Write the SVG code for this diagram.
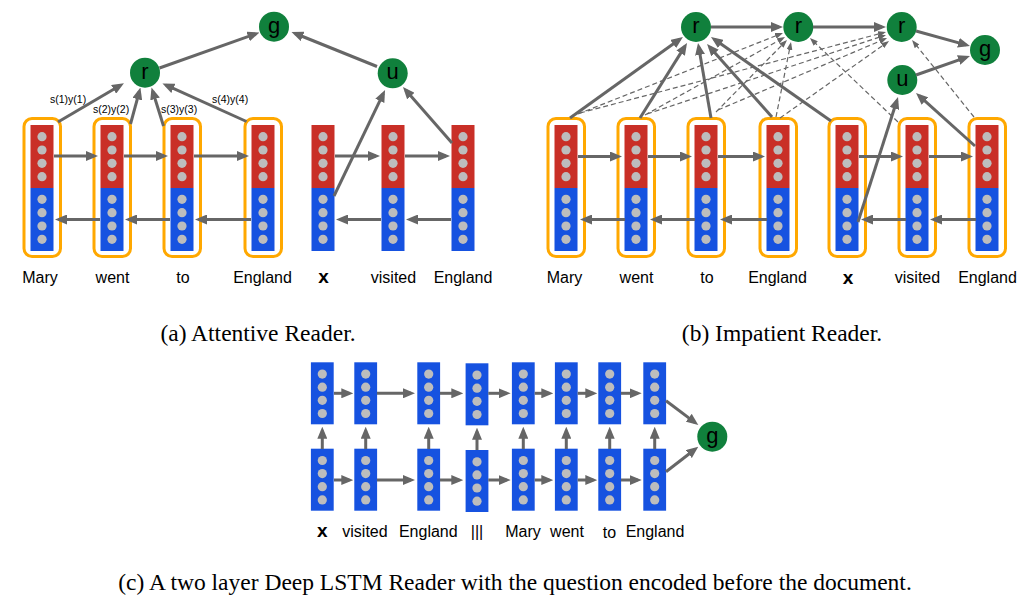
<svg xmlns="http://www.w3.org/2000/svg" xmlns:xlink="http://www.w3.org/1999/xlink" width="1028" height="608" viewBox="0 0 1028 608">
<style>
.red{fill:#c92f27}
.blue{fill:#1652e0}
.dot{fill:#bdbdbd}
.box{fill:#fff;stroke:#ffa800;stroke-width:3}
.node{fill:#10803c}
.nl{font-family:"Liberation Sans",Arial,sans-serif;font-size:22px;fill:#000;text-anchor:middle}
.w{font-family:"Liberation Sans",Arial,sans-serif;font-size:16px;fill:#000;text-anchor:middle}
.xb{font-weight:bold;font-size:19px}
.lab{font-family:"Liberation Sans",Arial,sans-serif;font-size:10.5px;fill:#000}
.cap{font-family:"Liberation Serif","Times New Roman",serif;font-size:23.5px;fill:#000;text-anchor:middle}
.a{stroke:#666;stroke-width:3;fill:none;marker-end:url(#ah)}
.d{stroke:#666;stroke-width:1.2;stroke-dasharray:5 3;fill:none;marker-end:url(#dh)}
</style>
<defs>
<marker id="ah" markerUnits="userSpaceOnUse" markerWidth="12" markerHeight="10" viewBox="0 0 12 10" refX="8" refY="5" orient="auto">
<path d="M0,0 L12,5 L0,10 z" fill="#666"/>
</marker>
<marker id="dh" markerUnits="userSpaceOnUse" markerWidth="8" markerHeight="6" viewBox="0 0 8 6" refX="6" refY="3" orient="auto">
<path d="M0,0 L8,3 L0,6 z" fill="#666"/>
</marker>
<g id="colRB">
<rect class="red" x="-11.5" y="0" width="23" height="63"/>
<rect class="blue" x="-11.5" y="63" width="23" height="63"/>
<circle class="dot" cx="0" cy="11.7" r="4.6"/>
<circle class="dot" cx="0" cy="25" r="4.6"/>
<circle class="dot" cx="0" cy="38.3" r="4.6"/>
<circle class="dot" cx="0" cy="51.7" r="4.6"/>
<circle class="dot" cx="0" cy="74.3" r="4.6"/>
<circle class="dot" cx="0" cy="87.7" r="4.6"/>
<circle class="dot" cx="0" cy="101" r="4.6"/>
<circle class="dot" cx="0" cy="114.3" r="4.6"/>
</g>
<g id="colBox">
<rect class="box" x="-18" y="118.5" width="36.5" height="138" rx="8"/>
<use xlink:href="#colRB" x="0" y="125"/>
</g>
<g id="colB">
<rect class="blue" x="-11.4" y="0" width="22.8" height="62"/>
<circle class="dot" cx="0" cy="11.8" r="4.6"/>
<circle class="dot" cx="0" cy="24.9" r="4.6"/>
<circle class="dot" cx="0" cy="38" r="4.6"/>
<circle class="dot" cx="0" cy="51.2" r="4.6"/>
</g>
</defs>
<rect width="1028" height="608" fill="#fff"/>

<!-- Panel (a) -->
<g id="a-mary"><use xlink:href="#colBox" x="42" y="0"/><text class="w" x="40" y="283">Mary</text></g>
<g id="a-went"><use xlink:href="#colBox" x="112" y="0"/><text class="w" x="112.5" y="283">went</text></g>
<g id="a-to"><use xlink:href="#colBox" x="182" y="0"/><text class="w" x="183" y="283">to</text></g>
<g id="a-england"><use xlink:href="#colBox" x="263" y="0"/><text class="w" x="262.5" y="283">England</text></g>
<g id="a-x"><use xlink:href="#colRB" x="323" y="125"/><text class="w xb" x="323.5" y="283">x</text></g>
<g id="a-visited"><use xlink:href="#colRB" x="393" y="125"/><text class="w" x="393.5" y="283">visited</text></g>
<g id="a-england2"><use xlink:href="#colRB" x="463" y="125"/><text class="w" x="463" y="283">England</text></g>
<g id="a-r"><circle class="node" cx="145" cy="72.7" r="15"/><text class="nl" x="145" y="79">r</text></g>
<g id="a-g"><circle class="node" cx="274" cy="26.7" r="15"/><text class="nl" x="274" y="32.5">g</text></g>
<g id="a-u"><circle class="node" cx="392.7" cy="73.3" r="15"/><text class="nl" x="392.7" y="79.3">u</text></g>

<g id="a-labels">
<text class="lab" x="50" y="102.5">s(1)y(1)</text>
<text class="lab" x="93" y="112.5">s(2)y(2)</text>
<text class="lab" x="161" y="112.5">s(3)y(3)</text>
<text class="lab" x="212" y="102.5">s(4)y(4)</text>
</g>

<!-- Panel (b) -->
<g id="b-mary"><use xlink:href="#colBox" x="566" y="0"/><text class="w" x="564.5" y="283">Mary</text></g>
<g id="b-went"><use xlink:href="#colBox" x="636" y="0"/><text class="w" x="636.5" y="283">went</text></g>
<g id="b-to"><use xlink:href="#colBox" x="706" y="0"/><text class="w" x="707" y="283">to</text></g>
<g id="b-england"><use xlink:href="#colBox" x="778" y="0"/><text class="w" x="777.5" y="283">England</text></g>
<g id="b-x"><use xlink:href="#colBox" x="847" y="0"/><text class="w xb" x="848" y="283.5">x</text></g>
<g id="b-visited"><use xlink:href="#colBox" x="917" y="0"/><text class="w" x="917.5" y="283">visited</text></g>
<g id="b-england2"><use xlink:href="#colBox" x="987" y="0"/><text class="w" x="987.5" y="283">England</text></g>
<g id="b-r1"><circle class="node" cx="696" cy="27" r="15"/><text class="nl" x="696" y="33">r</text></g>
<g id="b-r2"><circle class="node" cx="798.3" cy="27" r="15"/><text class="nl" x="798.3" y="33">r</text></g>
<g id="b-r3"><circle class="node" cx="901.7" cy="27" r="15"/><text class="nl" x="901.7" y="33">r</text></g>
<g id="b-g"><circle class="node" cx="985" cy="50" r="15"/><text class="nl" x="985" y="56">g</text></g>
<g id="b-u"><circle class="node" cx="902.3" cy="80" r="15"/><text class="nl" x="902.3" y="86">u</text></g>

<!-- Panel (c) -->
<g id="c-x"><use xlink:href="#colB" x="322.3" y="362.3"/><use xlink:href="#colB" x="322.3" y="448.7"/><text class="w xb" x="322.3" y="537">x</text></g>
<g id="c-visited"><use xlink:href="#colB" x="365.7" y="362.3"/><use xlink:href="#colB" x="365.7" y="448.7"/><text class="w" x="365" y="536.7">visited</text></g>
<g id="c-england"><use xlink:href="#colB" x="428.7" y="362.3"/><use xlink:href="#colB" x="428.7" y="448.7"/><text class="w" x="428.3" y="536.7">England</text></g>
<g id="c-sep"><use xlink:href="#colB" x="477" y="363.3"/><use xlink:href="#colB" x="477" y="450"/><text class="w" x="477" y="536.7" fill="#5a2a4a">|||</text></g>
<g id="c-mary"><use xlink:href="#colB" x="523.3" y="362.3"/><use xlink:href="#colB" x="523.3" y="448.7"/><text class="w" x="523" y="536.7">Mary</text></g>
<g id="c-went"><use xlink:href="#colB" x="566.3" y="362.3"/><use xlink:href="#colB" x="566.3" y="448.7"/><text class="w" x="567" y="536.7">went</text></g>
<g id="c-to"><use xlink:href="#colB" x="609.7" y="362.3"/><use xlink:href="#colB" x="609.7" y="448.7"/><text class="w" x="609.5" y="537.5">to</text></g>
<g id="c-england2"><use xlink:href="#colB" x="654.7" y="362.3"/><use xlink:href="#colB" x="654.7" y="448.7"/><text class="w" x="655" y="536.7">England</text></g>
<g id="c-g"><circle class="node" cx="712.3" cy="436.7" r="15"/><text class="nl" x="712.3" y="442.5">g</text></g>

<g id="connectors">
<!-- (a) horizontal -->
<line class="a" x1="54" y1="156" x2="94" y2="156"/>
<line class="a" x1="124" y1="156" x2="164" y2="156"/>
<line class="a" x1="194" y1="156" x2="245" y2="156"/>
<line class="a" x1="335" y1="156" x2="376" y2="156"/>
<line class="a" x1="405" y1="156" x2="446" y2="156"/>
<line class="a" x1="100" y1="219.5" x2="59" y2="219.5"/>
<line class="a" x1="170" y1="219.5" x2="129" y2="219.5"/>
<line class="a" x1="251" y1="219.5" x2="199" y2="219.5"/>
<line class="a" x1="381" y1="219.5" x2="340" y2="219.5"/>
<line class="a" x1="451" y1="219.5" x2="410" y2="219.5"/>
<!-- (a) attention / query -->
<line class="a" x1="58" y1="122" x2="120.5" y2="85.3"/>
<line class="a" x1="130.5" y1="124" x2="139.4" y2="91.4"/>
<line class="a" x1="163.5" y1="126" x2="152.7" y2="91.3"/>
<line class="a" x1="246.5" y1="121.5" x2="166.1" y2="85.1"/>
<line class="a" x1="159.5" y1="68" x2="255.7" y2="33.8"/>
<line class="a" x1="377" y1="66.5" x2="295.2" y2="33.5"/>
<line class="a" x1="334" y1="196" x2="383.3" y2="93.6"/>
<line class="a" x1="452" y1="143" x2="405.6" y2="90"/>
<!-- (b) horizontal -->
<line class="a" x1="578" y1="156.5" x2="618" y2="156.5"/>
<line class="a" x1="648" y1="156.5" x2="688" y2="156.5"/>
<line class="a" x1="718" y1="156.5" x2="761" y2="156.5"/>
<line class="a" x1="859" y1="156.5" x2="899" y2="156.5"/>
<line class="a" x1="929" y1="156.5" x2="969" y2="156.5"/>
<line class="a" x1="625" y1="219.5" x2="584" y2="219.5"/>
<line class="a" x1="695" y1="219.5" x2="654" y2="219.5"/>
<line class="a" x1="767" y1="219.5" x2="724" y2="219.5"/>
<line class="a" x1="906" y1="219.5" x2="865" y2="219.5"/>
<line class="a" x1="976" y1="219.5" x2="934" y2="219.5"/>
<!-- (b) solid -->
<line class="a" x1="711" y1="27" x2="779" y2="27"/>
<line class="a" x1="813" y1="27" x2="882" y2="27"/>
<line class="a" x1="916" y1="31" x2="966.1" y2="44.9"/>
<line class="a" x1="916" y1="75" x2="966.2" y2="57.3"/>
<line class="a" x1="570" y1="118" x2="679.7" y2="39.3"/>
<line class="a" x1="640" y1="118" x2="684.9" y2="46.4"/>
<line class="a" x1="711" y1="118" x2="698.7" y2="46.9"/>
<line class="a" x1="772" y1="117" x2="709.7" y2="47"/>
<line class="a" x1="831" y1="121" x2="714.3" y2="39.3"/>
<line class="a" x1="858" y1="222" x2="896.8" y2="100.8"/>
<line class="a" x1="975" y1="146" x2="919" y2="95.7"/>
<!-- (b) dashed -->
<line class="d" x1="578" y1="114" x2="781.1" y2="33.7"/>
<line class="d" x1="645" y1="115" x2="783.3" y2="38"/>
<line class="d" x1="716" y1="112" x2="785.6" y2="41.4"/>
<line class="d" x1="776" y1="117" x2="790.6" y2="44"/>
<line class="d" x1="898" y1="122" x2="811.4" y2="39.4"/>
<line class="d" x1="580" y1="113" x2="884.1" y2="32.5"/>
<line class="d" x1="647" y1="114" x2="884.1" y2="35.6"/>
<line class="d" x1="718" y1="110" x2="885.2" y2="38.8"/>
<line class="d" x1="780" y1="118" x2="887.4" y2="42.2"/>
<line class="d" x1="974" y1="117" x2="913.3" y2="41.6"/>
<!-- (c) horizontal -->
<line class="a" x1="334" y1="393.3" x2="349.3" y2="393.3"/>
<line class="a" x1="377" y1="393.3" x2="411" y2="393.3"/>
<line class="a" x1="440" y1="393.3" x2="459.3" y2="393.3"/>
<line class="a" x1="488.3" y1="393.3" x2="506.7" y2="393.3"/>
<line class="a" x1="534.7" y1="393.3" x2="549.3" y2="393.3"/>
<line class="a" x1="577.7" y1="393.3" x2="593.3" y2="393.3"/>
<line class="a" x1="621" y1="393.3" x2="637.7" y2="393.3"/>
<line class="a" x1="334" y1="480" x2="349.3" y2="480"/>
<line class="a" x1="377" y1="480" x2="411" y2="480"/>
<line class="a" x1="440" y1="480" x2="459.3" y2="480"/>
<line class="a" x1="488.3" y1="480" x2="506.7" y2="480"/>
<line class="a" x1="534.7" y1="480" x2="549.3" y2="480"/>
<line class="a" x1="577.7" y1="480" x2="593.3" y2="480"/>
<line class="a" x1="621" y1="480" x2="637.7" y2="480"/>
<!-- (c) vertical -->
<line class="a" x1="322.3" y1="449" x2="322.3" y2="430.7"/>
<line class="a" x1="365.7" y1="449" x2="365.7" y2="430.7"/>
<line class="a" x1="428.7" y1="449" x2="428.7" y2="430.7"/>
<line class="a" x1="477" y1="450" x2="477" y2="431.7"/>
<line class="a" x1="523.3" y1="449" x2="523.3" y2="430.7"/>
<line class="a" x1="566.3" y1="449" x2="566.3" y2="430.7"/>
<line class="a" x1="609.7" y1="449" x2="609.7" y2="430.7"/>
<line class="a" x1="654.7" y1="449" x2="654.7" y2="430.7"/>
<!-- (c) to g -->
<line class="a" x1="666" y1="400.7" x2="695.1" y2="422.6"/>
<line class="a" x1="666" y1="471.7" x2="695.1" y2="449.2"/>
</g>

<g id="captions">
<text class="cap" x="258" y="341">(a) Attentive Reader.</text>
<text class="cap" x="782" y="341">(b) Impatient Reader.</text>
<text class="cap" x="515" y="590">(c) A two layer Deep LSTM Reader with the question encoded before the document.</text>
</g>
</svg>
